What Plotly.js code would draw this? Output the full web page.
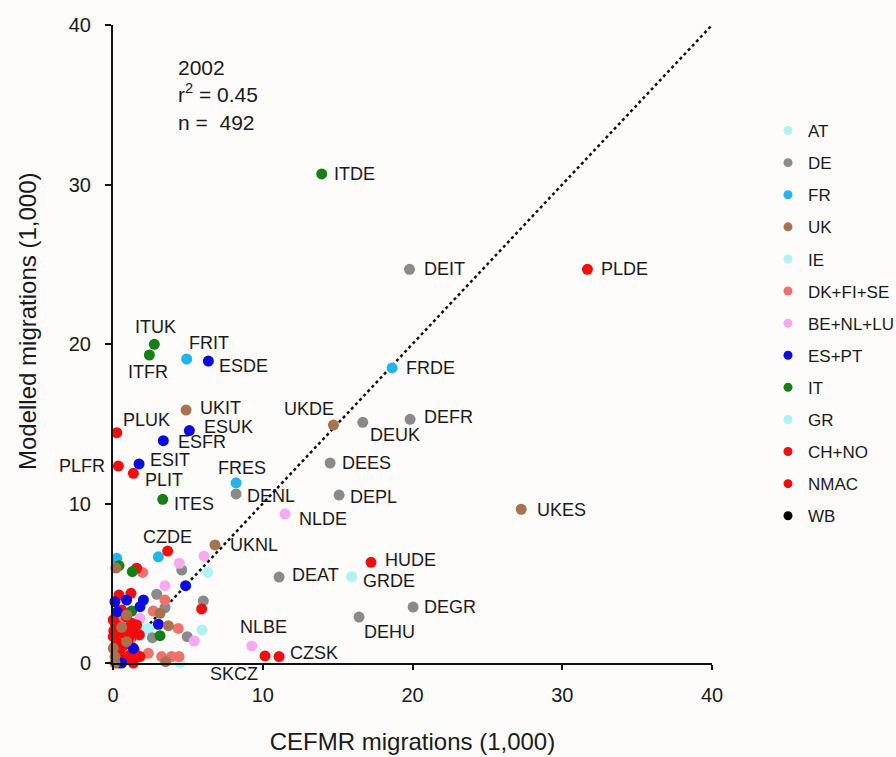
<!DOCTYPE html>
<html><head><meta charset="utf-8">
<script src="https://cdn.plot.ly/plotly-3.0.1.min.js"></script>
<style>html,body{margin:0;padding:0;background:#fdfcfb}</style>
</head><body><div id="chart" style="width:896px;height:757px"></div>
<script>
// ---------------- data ----------------
const groupNames = ['AT','DE','FR','UK','IE','DK+FI+SE','BE+NL+LU','ES+PT','IT','GR','CH+NO','NMAC','WB'];

const atX = [6.33, 4.48];
const atY = [5.68, 0.02];
const atLbl = ['', ''];

const deX = [19.8, 16.68, 19.84, 14.5, 8.22, 15.1, 11.09, 20.04, 16.43, 4.59, 6.03, 2.92, 3.47, 2.63, 4.96];
const deY = [24.68, 15.09, 15.28, 12.54, 10.6, 10.53, 5.39, 3.51, 2.88, 5.83, 3.89, 4.31, 3.47, 1.59, 1.65];
const deLbl = ['DEIT','DEUK','DEFR','DEES','DENL','DEPL','DEAT','DEGR','DEHU','','','','','',''];

const frX = [4.92, 18.64, 8.22, 0.25, 3.03];
const frY = [19.06, 18.5, 11.3, 6.56, 6.66];
const frLbl = ['FRIT','FRDE','FRES','',''];

const ukX = [4.88, 14.72, 27.26, 6.81, 0.2, 3.14, 3.7, 3.52, 0.91, 0.58, 0.91, 0.02, 0.13, 0.13];
const ukY = [15.86, 14.92, 9.64, 7.4, 5.95, 3.12, 2.34, 0.08, 3.01, 2.24, 1.34, 0.92, 0.4, 0.0];
const ukLbl = ['UKIT','UKDE','UKES','UKNL','','','','','','','','','',''];

const ieX = [2.03];
const ieY = [2.07];
const ieLbl = [''];

const dkX = [1.98, 3.47, 2.69, 4.36, 2.36, 3.25, 3.92, 4.41, 0.58, 1.14, 1.47, 0.7, 0.45];
const dkY = [5.68, 3.95, 3.26, 2.17, 0.61, 0.4, 0.4, 0.4, 1.65, 1.44, 0.7, 2.6, 2.95];
const dkLbl = ['','','','','','','','','','','','',''];

const beX = [11.49, 9.27, 4.43, 6.08, 3.47, 5.43, 1.8, 0.8];
const beY = [9.34, 1.07, 6.25, 6.7, 4.85, 1.38, 2.8, 0.71];
const beLbl = ['NLDE','NLBE','','','','','',''];

const esX = [6.37, 5.1, 3.36, 1.74, 4.85, 0.13, 0.91, 2.03, 1.8, 0.29, 3.03, 1.36, 0.58];
const esY = [18.93, 14.57, 13.94, 12.48, 4.85, 3.84, 3.95, 3.95, 3.53, 3.22, 2.43, 0.92, 0.0];
const esLbl = ['ESDE','ESUK','ESFR','ESIT','','','','','','','','',''];

const itX = [13.94, 2.76, 2.43, 3.32, 0.4, 1.29, 1.25, 3.14];
const itY = [30.66, 19.98, 19.31, 10.26, 6.1, 5.73, 3.26, 1.71];
const itLbl = ['ITDE','ITUK','ITFR','ITES','','','',''];

const grX = [15.94, 5.95, 2.36];
const grY = [5.41, 2.07, 2.17];
const grLbl = ['GRDE','',''];

const chX = [5.92, 1.58, 0.5, 0.9, 0.15, 1.05];
const chY = [3.39, 5.94, 0.5, 2.9, 2.45, 1.6];
const chLbl = ['','','','','',''];

const nmX = [31.68, 0.25, 0.36, 1.36, 3.65, 17.23, 10.15, 11.09, 0.4, 1.2, 0.58, 0.02, 0.36, 1.25, 1.58, 1.36, 1.76, 0.02, 0.24, 0.13, 1.14, 0.36, 1.36, 1.8, 0.91, 0.05, 1.4, 0.7, 0.3, 0.6, 0.85, 0.45, 1.0];
const nmY = [24.68, 14.44, 12.35, 11.89, 7.02, 6.31, 0.44, 0.4, 4.26, 4.37, 3.32, 2.7, 2.28, 2.49, 2.38, 1.86, 1.76, 1.65, 1.34, 1.02, 0.5, 0.0, 0.0, 0.4, 2.11, 2.0, 0.82, 1.1, 0.2, 1.9, 0.25, 0.75, 1.45];
const nmLbl = ['PLDE','PLUK','PLFR','PLIT','CZDE','HUDE','SKCZ','CZSK','','','','','','','','','','','','','','','','','','','','','','','','',''];

const wbX = [];
const wbY = [];
const wbLbl = [];

// 1:1 reference line
const lineX = [0, 40];
const lineY = [0, 40];

const statYear = '2002';
const statR2 = '0.45';
const statN = '492';

const xTicks = [0, 10, 20, 30, 40];
const yTicks = [0, 10, 20, 30, 40];

// ---------------- styles ----------------
const colors = {
  'AT':'#aef2f4','DE':'#8a8a8a','FR':'#22b4ee','UK':'#a8724e','IE':'#aef2f4',
  'DK+FI+SE':'#f0716c','BE+NL+LU':'#f5a9f0','ES+PT':'#0a0ae2','IT':'#128012',
  'GR':'#aef2f4','CH+NO':'#f20c0c','NMAC':'#f20c0c','WB':'#000000'
};

const seriesData = {
  'AT':[atX,atY,atLbl],'DE':[deX,deY,deLbl],'FR':[frX,frY,frLbl],'UK':[ukX,ukY,ukLbl],
  'IE':[ieX,ieY,ieLbl],'DK+FI+SE':[dkX,dkY,dkLbl],'BE+NL+LU':[beX,beY,beLbl],
  'ES+PT':[esX,esY,esLbl],'IT':[itX,itY,itLbl],'GR':[grX,grY,grLbl],
  'CH+NO':[chX,chY,chLbl],'NMAC':[nmX,nmY,nmLbl],'WB':[wbX,wbY,wbLbl]
};

// label placement: [xanchor, dx px, dy px (down positive)]
const labelPos = {
  ITDE:['left',10,0], DEIT:['left',12,0], PLDE:['left',12,0],
  ITUK:['center',1,-17], ITFR:['center',-1,17], FRIT:['left',0,-16],
  ESDE:['left',9,5], FRDE:['left',12,0], UKIT:['left',12,-2],
  UKDE:['right',3,-16], DEUK:['left',5,13], DEFR:['left',12,-2],
  PLUK:['left',4,-13], ESUK:['left',13,-4], ESFR:['left',13,1],
  ESIT:['left',9,-4], PLFR:['right',-11,0], PLIT:['left',10,7],
  FRES:['center',6,-15], DENL:['left',9,2], ITES:['left',9,5],
  DEES:['left',10,0], DEPL:['left',9,2], NLDE:['left',12,5],
  UKES:['left',14,1], CZDE:['center',0,-14], UKNL:['left',13,0],
  HUDE:['left',12,-2], GRDE:['left',9,4], DEAT:['left',11,-2],
  DEGR:['left',9,0], DEHU:['left',3,15], NLBE:['center',12,-19],
  CZSK:['left',9,-4], SKCZ:['right',-5,18]
};

const drawOrder = ['AT','IE','GR','DE','FR','DK+FI+SE','BE+NL+LU','CH+NO','NMAC','IT','ES+PT','UK','WB'];

const traces = [];
traces.push({
  x: lineX, y: lineY, mode: 'lines', type: 'scatter', showlegend: false,
  line: {color: '#111', width: 2.5, dash: 'dot'}, hoverinfo: 'skip'
});
drawOrder.forEach(g => {
  const d = seriesData[g];
  traces.push({
    x: d[0], y: d[1], mode: 'markers', type: 'scatter', name: g,
    showlegend: false, cliponaxis: false,
    marker: {size: 11, color: colors[g], line: {width: 0}}
  });
});
// legend entries
groupNames.forEach(g => {
  traces.push({
    x: [null], y: [null], mode: 'markers', type: 'scatter', name: g,
    legendgroup: g, showlegend: true,
    marker: {size: 9, color: colors[g]}
  });
});

const annotations = [];
groupNames.forEach(g => {
  const d = seriesData[g];
  d[2].forEach((lbl, i) => {
    if (!lbl) return;
    const p = labelPos[lbl] || ['left',10,0];
    annotations.push({
      x: d[0][i], y: d[1][i], xref: 'x', yref: 'y', text: lbl, showarrow: false,
      xanchor: p[0], yanchor: 'middle', xshift: p[1], yshift: -p[2],
      font: {family: 'Liberation Sans, Arial, sans-serif', size: 18, color: '#1a1a1a'}
    });
  });
});
annotations.push({
  xref: 'paper', yref: 'paper', x: (176-113)/599, y: (663-54)/638,
  xanchor: 'left', yanchor: 'top', align: 'left', showarrow: false,
  text: statYear + '<br>r<sup>2</sup> = ' + statR2 + '<br>n =  ' + statN,
  font: {family: 'Liberation Sans, Arial, sans-serif', size: 21, color: '#1a1a1a'}
});
annotations.push({
  xref: 'paper', yref: 'paper', x: (27-113)/599, y: (663-322)/638,
  xanchor: 'center', yanchor: 'middle', textangle: -90, showarrow: false,
  text: 'Modelled migrations (1,000)',
  font: {family: 'Liberation Sans, Arial, sans-serif', size: 24, color: '#1a1a1a'}
});

const layout = {
  width: 896, height: 757,
  margin: {l: 113, r: 184, t: 25, b: 94, autoexpand: false},
  paper_bgcolor: '#fdfcfb', plot_bgcolor: '#fdfcfb',
  font: {family: 'Liberation Sans, Arial, sans-serif', color: '#1a1a1a'},
  hovermode: false,
  xaxis: {
    range: [0, 40], showgrid: false, zeroline: false, showline: true,
    linecolor: '#111', linewidth: 2, ticks: 'outside', ticklen: 5, tickwidth: 2,
    tickcolor: '#111', tickvals: xTicks, ticktext: xTicks.map(String),
    tickfont: {size: 20}, ticklabelstandoff: 8,
    title: {text: 'CEFMR migrations (1,000)', font: {size: 24}, standoff: 28}
  },
  yaxis: {
    range: [0, 40], showgrid: false, zeroline: false, showline: true,
    linecolor: '#111', linewidth: 2, ticks: 'outside', ticklen: 6, tickwidth: 2,
    tickcolor: '#111', tickvals: yTicks, ticktext: yTicks.map(String),
    tickfont: {size: 20}, ticklabelstandoff: 10
  },
  legend: {
    x: (768-113)/599, xanchor: 'left', y: (663-113)/638, yanchor: 'top',
    font: {size: 17}, traceorder: 'grouped', tracegroupgap: 7,
    bgcolor: 'rgba(0,0,0,0)'
  },
  annotations: annotations
};

Plotly.newPlot('chart', traces, layout, {displayModeBar: false, staticPlot: true});
</script>
</body></html>
